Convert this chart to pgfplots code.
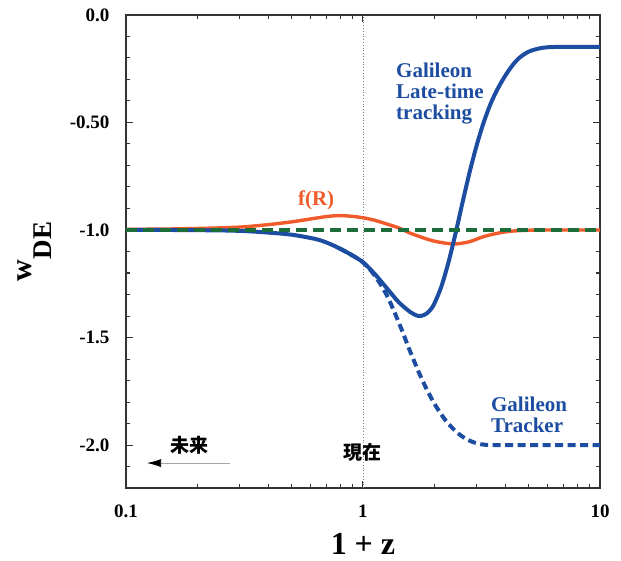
\documentclass[border=0pt]{standalone}
\usepackage{fontspec}
\setmainfont{Liberation Serif}
\newfontfamily\jp{Noto Sans CJK JP}
\usepackage{pgfplots}
\pgfplotsset{compat=1.18}
\usetikzlibrary{arrows.meta}

\definecolor{galblue}{RGB}{28,77,161}
\definecolor{fred}{RGB}{241,90,43}
\definecolor{lcdm}{RGB}{27,110,58}

\begin{document}
\begin{tikzpicture}
\useasboundingbox (-126pt,-72pt) rectangle (495pt,488pt);
\begin{axis}[
  at={(0,0)}, anchor=south west,
  scale only axis, width=474pt, height=473pt,
  xmode=log, xmin=0.1, xmax=10, ymin=-2.2, ymax=0,
  xtick={0.1,1,10}, xticklabels={0.1,1,10},
  minor xtick={0.2,0.3,0.4,0.5,0.6,0.7,0.8,0.9,2,3,4,5,6,7,8,9},
  ytick={-2,-1.5,-1,-0.5,0}, yticklabels={-2.0,-1.5,-1.0,-0.50,0.0},
  minor ytick={-2.1,-1.9,-1.8,-1.7,-1.6,-1.4,-1.3,-1.2,-1.1,-0.9,-0.8,-0.7,-0.6,-0.4,-0.3,-0.2,-0.1},
  tick align=inside,
  major tick length=7pt, minor tick length=4pt,
  axis line style={draw=black!80, line width=1.2pt},
  every tick/.style={black!80, line width=1pt},
  tick label style={font=\fontsize{19}{19}\selectfont\bfseries},
  yticklabel style={xshift=-13pt},
  xticklabel style={yshift=-13pt},
  xlabel={1 + z},
  xlabel style={at={(axis description cs:0.5,-0.118)}, anchor=center, inner sep=0pt,
    font=\fontsize{32}{32}\selectfont\bfseries},
  ylabel={w\raisebox{-20pt}{\fontsize{27}{27}\selectfont DE}},
  ylabel style={at={(axis description cs:-0.192,0.5)}, anchor=center, inner sep=0pt,
    font=\fontsize{30}{30}\selectfont\bfseries},
]

% present epoch
\draw[gray, dotted, line width=0.8pt] (axis cs:1,-2.2) -- (axis cs:1,0);

% f(R)
\addplot[fred, line width=3.4pt, smooth] coordinates {
  (0.1,-0.997) (0.1585,-0.995) (0.2512,-0.99) (0.3162,-0.985) (0.3981,-0.975)
  (0.5012,-0.962) (0.6310,-0.945) (0.7079,-0.937) (0.7943,-0.933) (0.8913,-0.936)
  (1,-0.943) (1.122,-0.955) (1.259,-0.972) (1.413,-0.99) (1.585,-1.015)
  (1.738,-1.031) (2.0,-1.052) (2.40,-1.065) (2.8,-1.055) (3.22,-1.031)
  (3.7,-1.015) (4.17,-1.006) (5.0,-1.001) (6.3,-1.0) (10,-1.0)
};

% Galileon late-time tracking
\addplot[galblue, line width=4pt, smooth] coordinates {
  (0.1,-1.0) (0.1585,-1.0) (0.2512,-1.002) (0.3162,-1.005) (0.3981,-1.012)
  (0.5012,-1.022) (0.6310,-1.042) (0.7079,-1.06) (0.7943,-1.085) (0.8913,-1.115)
  (1,-1.15) (1.122,-1.205) (1.259,-1.27) (1.413,-1.335) (1.585,-1.382)
  (1.714,-1.40) (1.820,-1.394) (1.905,-1.377) (1.995,-1.345) (2.138,-1.265)
  (2.291,-1.153) (2.455,-1.018) (2.630,-0.872) (2.818,-0.731) (3.020,-0.605)
  (3.236,-0.497) (3.467,-0.409) (3.715,-0.340) (3.981,-0.283) (4.266,-0.235)
  (4.571,-0.199) (5.012,-0.170) (5.623,-0.154) (6.310,-0.149) (7.943,-0.148)
  (10,-0.148)
};

% Galileon tracker
\addplot[galblue, line width=4pt, smooth, dash pattern=on 8pt off 4.5pt] coordinates {
  (0.7943,-1.085) (0.8913,-1.115) (1,-1.15) (1.122,-1.2125) (1.259,-1.3025)
  (1.413,-1.4275) (1.585,-1.5675) (1.778,-1.6975) (1.995,-1.805) (2.239,-1.8875)
  (2.512,-1.945) (2.818,-1.98) (3.162,-1.997) (3.548,-2.0) (5.012,-2.0) (10,-2.0)
};

% LCDM
\addplot[lcdm, line width=3.2pt, dash pattern=on 11pt off 6pt] coordinates {
  (0.1,-1.0) (10,-1.0)
};

\draw[gray!70, line width=0.7pt, -{Latex[length=14pt,width=8pt,black]}]
  (axis cs:0.2748,-2.084) -- (axis cs:0.1227,-2.084);
\node[font=\jp\bfseries\fontsize{19}{19}\selectfont, anchor=center] at (axis cs:0.1845,-2.0) {未来};
\node[font=\jp\bfseries\fontsize{19}{19}\selectfont, anchor=center] at (axis cs:1,-2.033) {現在};
\node[font=\fontsize{21}{21}\selectfont\bfseries, text=fred, anchor=center] at (axis cs:0.634,-0.86) {f(R)};
\node[font=\fontsize{21}{21}\selectfont\bfseries, text=galblue, anchor=north west, align=left, inner sep=0pt]
  at (axis cs:1.378,-0.223) {Galileon\\Late-time\\tracking};
\node[font=\fontsize{21}{21}\selectfont\bfseries, text=galblue, anchor=north west, align=left, inner sep=0pt]
  at (axis cs:3.467,-1.775) {Galileon\\Tracker};
\end{axis}
\end{tikzpicture}
\end{document}
